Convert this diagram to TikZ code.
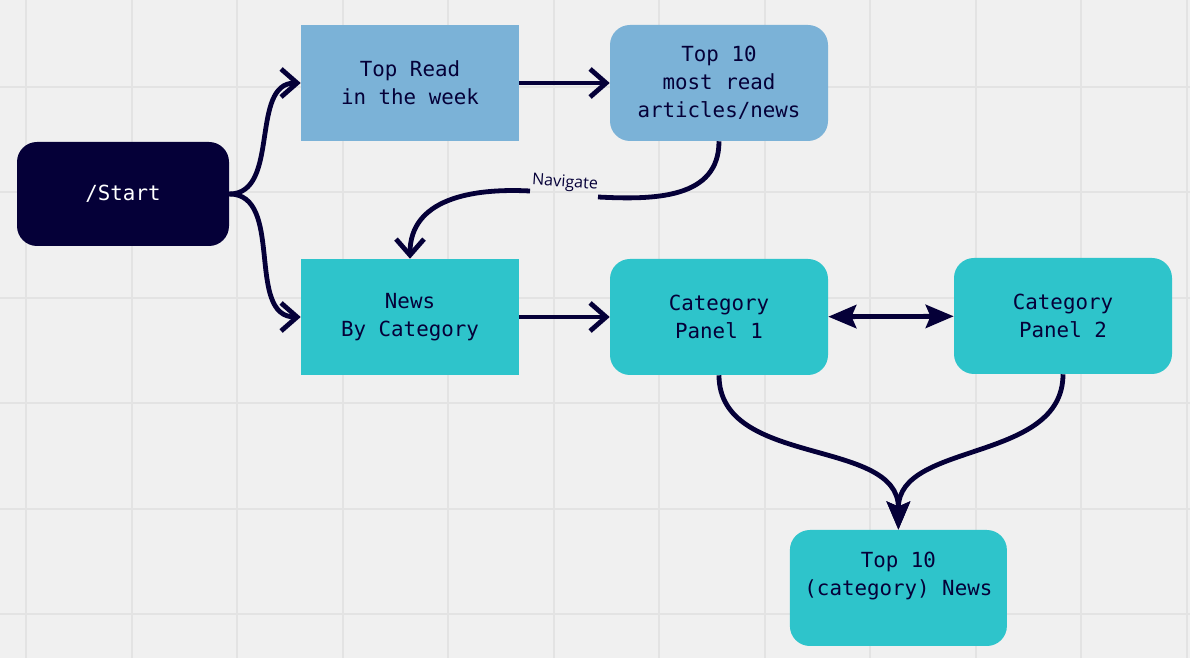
\documentclass[tikz,border=0pt]{standalone}
\usepackage{fontspec}
\setmonofont{DejaVu Sans Mono}
\newfontfamily\navfont{Open Sans}
\usetikzlibrary{
		arrows.meta,
		positioning
	}
\definecolor{boardbg}{HTML}{F0F0F0}
\definecolor{gridgray}{HTML}{E3E3E3}
\definecolor{ink}{HTML}{050038}
\definecolor{skyblue}{HTML}{7BB2D7}
\definecolor{tealbox}{HTML}{2EC4CB}
\tikzset{
		gridline/.style={line width=0.5mm, draw=gridgray},
		cardbox/.style={minimum width=54.5mm, minimum height=29mm, inner sep=0pt, align=center, text=ink, font=\ttfamily\fontsize{14.8}{19.9}\selectfont},
		roundbox/.style={cardbox, rounded corners=5mm},
		flow/.style={line width=1.2mm, draw=ink},
		chev/.style={flow, -{Straight Barb[length=4mm, width=7mm]}},
		tri/.style={flow, -{Stealth[length=7mm, width=5.8mm, inset=1.2mm]}},
		navlabel/.style={inner sep=0pt, text=ink, font=\navfont\fontsize{11.5}{13}\selectfont}
	}

\begin{document}
\begin{tikzpicture}
		\useasboundingbox (0mm,0mm) rectangle (297.5mm,164.5mm);
		\fill[boardbg] (0mm,0mm) rectangle (297.5mm,164.5mm);
		\foreach \gx in {0,...,11} \draw[gridline] ({6.6mm+\gx*26.375mm},0mm) -- ++(0mm,164.5mm);
		\foreach \gy in {0,...,5} \draw[gridline] (0mm,{10.875mm+\gy*26.375mm}) -- ++(297.5mm,0mm);

		\node[cardbox, fill=ink, text=white, rounded corners=5mm, minimum width=53mm, minimum height=26mm] (start) at (30.75mm, 116mm) {/Start};
		\node[cardbox, fill=skyblue] (topread) at (102.5mm, 143.75mm) {Top Read\\in the week};
		\node[roundbox, fill=skyblue] (mostread) at (179.75mm, 143.75mm) {Top 10\\most read\\articles/news};
		\node[cardbox, fill=tealbox] (bycat) at (102.5mm, 85.25mm) {News\\By Category};
		\node[roundbox, fill=tealbox] (panelone) at (179.75mm, 85.25mm) {Category\\Panel 1};
		\node[roundbox, fill=tealbox] (paneltwo) at (265.75mm, 85.5mm) {Category\\Panel 2};
		\node[roundbox, fill=tealbox, minimum width=54.25mm] (topcat) at (224.6mm, 17.5mm) {Top 10\\(category) News\\[-2mm]\strut};

		\draw[chev] (start.east) to[out=0, in=180] (topread.west);
		\draw[chev] (start.east) to[out=0, in=180] (bycat.west);
		\draw[chev] (topread) -- (mostread);
		\draw[chev] (bycat) -- (panelone);
		\draw[flow, {Stealth[length=7mm, width=5.8mm, inset=1.2mm]}-{Stealth[length=7mm, width=5.8mm, inset=1.2mm]}] (panelone) -- (paneltwo);

		\coordinate (navR) at (149.5mm, 115.25mm); \coordinate (navL) at (132.5mm, 116.75mm);
		\draw[flow] (mostread.south) to[out=-90, in=-3, looseness=1.1] (navR);
		\node[navlabel, rotate=-4] (navtext) at (141.25mm, 118.75mm) {Navigate};
		\draw[chev] (navL) to[out=177, in=90, looseness=1.1] (bycat.north);

		\draw[tri] (panelone.south) to[out=-90, in=90] (topcat.north);
		\draw[tri] (paneltwo.south) to[out=-90, in=90] (topcat.north);
	\end{tikzpicture}
\end{document}
